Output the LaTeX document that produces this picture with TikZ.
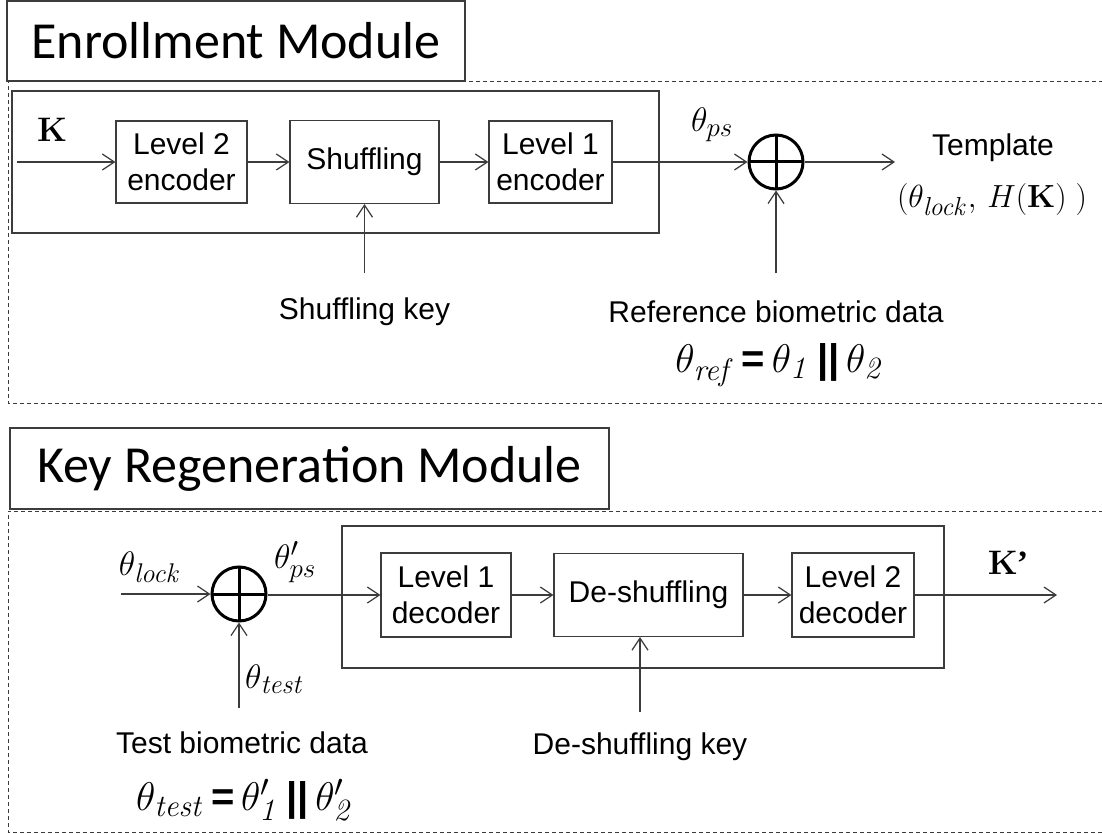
\RequirePackage{fix-cm}
\documentclass[tikz,border=0pt]{standalone}
\usepackage[no-math]{fontspec}
\setmainfont{Liberation Sans}
\newfontfamily\titlefont{Carlito}
\newfontfamily\seriffont{Liberation Serif}
\usetikzlibrary{arrows.meta}
\DeclareMathSizes{34}{34}{27}{20}
\DeclareMathSizes{40}{40}{31}{24}
\DeclareMathSizes{32}{32}{26}{19}
\definecolor{linegray}{RGB}{60,60,60}
\tikzset{
  blk/.style={draw=linegray, line width=1.2pt, inner sep=0pt, align=center,
    font=\fontsize{30}{36}\selectfont},
  outerbox/.style={draw=linegray, line width=1.2pt, inner sep=0pt},
  titlebox/.style={draw=linegray, line width=1.2pt, inner sep=0pt,
    font=\titlefont\fontsize{52}{60}\selectfont},
  dashframe/.style={draw=linegray, line width=1pt, dash pattern=on 4pt off 3pt},
  arr/.style={draw=linegray, line width=1.2pt, -{Straight Barb[length=12pt,width=16pt,line width=1.2pt]}},
  xorc/.style={circle, draw=black, line width=3pt, minimum size=54pt, inner sep=0pt,
    path picture={\draw[line width=3pt] (path picture bounding box.north) -- (path picture bounding box.south)
      (path picture bounding box.west) -- (path picture bounding box.east);}},
  lbl/.style={inner sep=0pt, font=\fontsize{30}{36}\selectfont},
  mlbl/.style={inner sep=0pt, font=\fontsize{34}{40}\selectfont},
  flbl/.style={inner sep=0pt, font=\fontsize{40}{46}\selectfont},
}
\begin{document}
\begin{tikzpicture}[x=1pt,y=-1pt]
\useasboundingbox (0,0) rectangle (1102,834);

% ---------------- Enrollment module ----------------
\node[titlebox, minimum width=458pt, minimum height=80pt] (t1) at (236,41) {Enrollment Module};
\draw[dashframe] (1103,82) -- (8,82) -- (8,403) -- (1103,403);

\node[outerbox, minimum width=647pt, minimum height=142pt] (encbox) at (335.5,162) {};
\node[blk, minimum width=131pt, minimum height=82pt] (l2e) at (181.5,162) {Level 2\\encoder};
\node[blk, minimum width=149pt, minimum height=83pt] (shf) at (364.5,162) {Shuffling};
\node[blk, minimum width=123pt, minimum height=82pt] (l1e) at (550.5,162) {Level 1\\encoder};
\node[xorc] (x1) at (776,162) {};

\coordinate (kin) at (17,162);
\node[mlbl] (klbl) at (52,130) {$\mathbf{K}$};
\node[mlbl] (thps) at (712,125) {$\theta_{ps}$};

\coordinate (tplin) at (895,162);
\node[lbl] (tpl) at (993,148) {Template};
\node[inner sep=0pt, font=\fontsize{32}{38}\selectfont] (tplf) at (992,200) {$(\theta_{\mathit{lock}},\, H(\mathbf{K})\ )$};

\coordinate (skey) at (364.5,273);
\node[lbl] (skeyl) at (364.5,312) {Shuffling key};
\coordinate (rkey) at (776,273);
\node[lbl] (rkeyl) at (776,312) {Reference biometric data};
\node[flbl] (rform) at (780,365) {$\theta_{\mathit{ref}}$\,\textbf{=}\,$\theta_{\mathit{1}}$\,\textbf{||}\,$\theta_{\mathit{2}}$};

\draw[arr] (kin) -- (l2e);
\draw[arr] (l2e) -- (shf);
\draw[arr] (shf) -- (l1e);
\draw[arr] (l1e) -- (x1);
\draw[arr] (x1) -- (tplin);
\draw[arr] (skey) -- (shf);
\draw[arr] (rkey) -- (x1);

% ---------------- Key regeneration module ----------------
\node[titlebox, minimum width=599pt, minimum height=81pt] (t2) at (309.5,468.5) {Key Regeneration Module};
\draw[dashframe] (1103,511) -- (8,511) -- (8,832) -- (1103,832);

\node[outerbox, minimum width=602pt, minimum height=142pt] (decbox) at (643,597) {};
\node[blk, minimum width=130pt, minimum height=84pt] (l1d) at (446,595) {Level 1\\decoder};
\node[blk, minimum width=189pt, minimum height=83pt] (dsh) at (648.5,595) {De-shuffling};
\node[blk, minimum width=122pt, minimum height=84pt] (l2d) at (853,595) {Level 2\\decoder};
\node[xorc] (x2) at (239,594) {};

\coordinate (lockin) at (121,594);
\node[mlbl] (thlock) at (150,567) {$\theta_{\mathit{lock}}$};
\node[mlbl] (thpsp) at (295,562) {$\theta'_{ps}$};
\coordinate (kout) at (1057,595);
\node[mlbl] (kplbl) at (1008,563) {$\mathbf{K}$\kern-1pt{\seriffont\bfseries ’}};

\coordinate (tin) at (239,708);
\node[mlbl, anchor=west] (thtest) at (245,679) {$\theta_{\mathit{test}}$};
\node[lbl] (tbio) at (242,743) {Test biometric data};
\node[flbl] (tform) at (245,800) {$\theta_{\mathit{test}}$\,\textbf{=}\,$\theta'_{\mathit{1}}$\,\textbf{||}\,$\theta'_{\mathit{2}}$};

\coordinate (dkey) at (640,712);
\node[lbl] (dkeyl) at (640,747) {De-shuffling key};

\draw[arr] (lockin) -- (x2);
\draw[arr] (tin) -- (x2);
\draw[arr] (x2.east |- l1d) -- (l1d);
\draw[arr] (l1d) -- (dsh);
\draw[arr] (dsh) -- (l2d);
\draw[arr] (l2d) -- (kout);
\draw[arr] (dkey) -- (dkey |- dsh.south);
\end{tikzpicture}
\end{document}
